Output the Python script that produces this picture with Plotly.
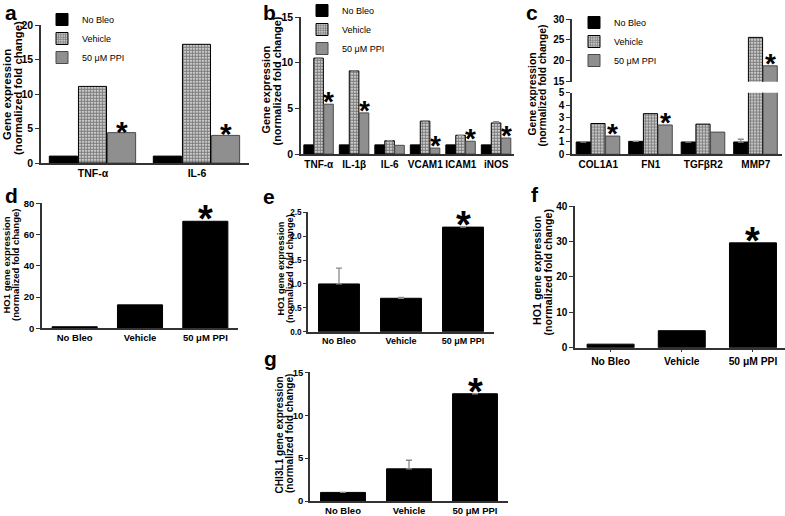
import plotly.graph_objects as go

W, H = 785, 516
def px(x): return x / W
def py(y): return 1 - y / H

FONT = "Liberation Sans"

# ---------------- data ----------------
series_names = ["No Bleo", "Vehicle", "50 μM PPI"]

a_cats = ["TNF-α", "IL-6"]
a_nobleo = [1.0, 1.0]
a_vehicle = [11.1, 17.2]
a_ppi = [4.4, 4.0]
a_sig = [True, True]

b_cats = ["TNF-α", "IL-1β", "IL-6", "VCAM1", "ICAM1", "iNOS"]
b_nobleo = [1.0, 1.0, 1.0, 1.0, 1.0, 1.0]
b_vehicle = [10.5, 9.1, 1.45, 3.6, 2.05, 3.4]
b_vehicle_err = [0, 0, 0, 0, 0, 0.15]
b_ppi = [5.45, 4.5, 0.95, 0.65, 1.4, 1.75]
b_sig = [True, True, False, True, True, True]

c_cats = ["COL1A1", "FN1", "TGFβR2", "MMP7"]
c_nobleo = [1.0, 1.05, 1.0, 1.0]
c_nobleo_err = [0, 0, 0, 0.22]
c_vehicle = [2.5, 3.3, 2.45, 25.6]
c_ppi = [1.48, 2.38, 1.8, 18.8]
c_sig = [True, True, False, True]

groups = ["No Bleo", "Vehicle", "50 μM PPI"]
d_vals = [1.0, 15.0, 68.5]
d_err = [0, 0, 0]
e_vals = [1.0, 0.70, 2.19]
e_err = [0.33, 0.02, 0]
f_vals = [1.0, 4.8, 29.6]
f_err = [0, 0, 0]
g_vals = [1.0, 3.75, 12.5]
g_err = [0, 1.0, 0]
single_sig = [False, False, True]

# ---------------- styles ----------------
M_NB = dict(color="black", line=dict(color="black", width=1))
M_VEH = dict(color="white",
             pattern=dict(shape=".", fgcolor="black", bgcolor="white", size=3, solidity=0.75),
             line=dict(color="black", width=1))
M_PPI = dict(color="#8f8f8f", line=dict(color="#4a4a4a", width=1))
M_SINGLE = dict(color="black", line=dict(color="black", width=1))

fig = go.Figure()
annotations = []

def err_dict(err):
    if err is None or not any(err):
        return None
    return dict(type="data", array=err, arrayminus=[0] * len(err), symmetric=False,
                color="#8a8a8a", thickness=1.3, width=3)

OFFS = (-0.42, -0.14, 0.14)
BW = 0.27

def grouped(xa, ya, cats, vals_list, errs_list, legend, showlegend):
    idx = list(range(len(cats)))
    for name, vals, err, marker, off in zip(series_names, vals_list, errs_list,
                                             (M_NB, M_VEH, M_PPI), OFFS):
        fig.add_trace(go.Bar(x=idx, y=vals, name=name, width=BW, offset=off,
                             marker=marker, xaxis=xa, yaxis=ya, legend=legend,
                             showlegend=showlegend, error_y=err_dict(err),
                             hoverinfo="skip"))

def single(xa, ya, vals, err, width):
    idx = list(range(len(groups)))
    fig.add_trace(go.Bar(x=idx, y=vals, width=width, marker=M_SINGLE,
                         xaxis=xa, yaxis=ya, showlegend=False,
                         error_y=err_dict(err), hoverinfo="skip"))

def star(xref, yref, x, y, size, yshift):
    annotations.append(dict(x=x, y=y, xref=xref, yref=yref, text="*", showarrow=False,
                            xanchor="center", yanchor="bottom", yshift=yshift,
                            font=dict(family=FONT, size=size, color="black", weight="bold")))

# panel a
grouped("x", "y", a_cats, [a_nobleo, a_vehicle, a_ppi], [None, None, None], "legend", True)
for i, (v, s) in enumerate(zip(a_ppi, a_sig)):
    if s:
        star("x", "y", i + OFFS[2] + BW / 2, v, 30, -17)
# panel b
grouped("x2", "y2", b_cats, [b_nobleo, b_vehicle, b_ppi], [None, b_vehicle_err, None], "legend2", True)
for i, (v, s) in enumerate(zip(b_ppi, b_sig)):
    if s:
        star("x2", "y2", i + OFFS[2] + BW / 2, v, 28, -15)
# panel c (broken axis)
grouped("x3", "y3", c_cats, [c_nobleo, c_vehicle, c_ppi], [c_nobleo_err, None, None], "legend3", True)
grouped("x4", "y4", c_cats, [c_nobleo, c_vehicle, c_ppi], [None, None, None], "legend3", False)
for i, (v, s) in enumerate(zip(c_ppi, c_sig)):
    if s:
        yr = "y4" if v > 5 else "y3"
        star("x3" if yr == "y3" else "x4", yr, i + OFFS[2] + BW / 2, v, 28, -15)
# panels d-g
single("x5", "y5", d_vals, d_err, 0.69)
single("x6", "y6", e_vals, e_err, 0.66)
single("x7", "y7", f_vals, f_err, 0.66)
single("x8", "y8", g_vals, g_err, 0.68)
for xa, ya, vals in (("x5", "y5", d_vals), ("x6", "y6", e_vals), ("x7", "y7", f_vals), ("x8", "y8", g_vals)):
    for i, (v, s) in enumerate(zip(vals, single_sig)):
        if s:
            star(xa, ya, i, v, 38, -21)

# ---------------- axes ----------------
def xaxis(x0, x1, anchor, rng, cats, fsize, visible=True, ticks=""):
    return dict(domain=[px(x0), px(x1)], anchor=anchor, range=rng,
                tickvals=list(range(len(cats))), ticktext=cats, tickangle=0,
                showline=visible, linecolor="#333", linewidth=1.5,
                ticks=ticks, ticklen=3, tickwidth=1.2, tickcolor="#333",
                showticklabels=visible, showgrid=False, zeroline=False, fixedrange=True,
                tickfont=dict(family=FONT, size=fsize, color="black", weight="bold"),
                visible=visible)

def yaxis(top, bot, anchor, rng, dtick, fsize, fmt=None, ticklen=4):
    d = dict(domain=[py(bot), py(top)], anchor=anchor, range=rng, dtick=dtick, tick0=rng[0],
             showline=True, linecolor="#333", linewidth=1.5,
             ticks="outside", ticklen=ticklen, tickwidth=1.2, tickcolor="#333",
             showgrid=False, zeroline=False, fixedrange=True,
             tickfont=dict(family=FONT, size=fsize, color="black", weight="bold"))
    if fmt:
        d["tickformat"] = fmt
    return d

layout = dict(
    width=W, height=H, margin=dict(l=0, r=0, t=0, b=0, autoexpand=False),
    paper_bgcolor="white", plot_bgcolor="white", barmode="overlay",
    font=dict(family=FONT, color="black"),
    xaxis=xaxis(41, 249, "y", [-0.5, 1.5], a_cats, 10.5),
    yaxis=yaxis(25, 163, "x", [0, 20], 5, 10.5),
    xaxis2=xaxis(301, 514, "y2", [-0.5, 5.5], b_cats, 10),
    yaxis2=yaxis(17, 154, "x2", [0, 15], 5, 10.5),
    xaxis3=xaxis(572, 782, "y3", [-0.5, 3.5], c_cats, 10),
    yaxis3=yaxis(92.7, 154.3, "x3", [0, 5], 1, 10),
    xaxis4=xaxis(572, 782, "y4", [-0.5, 3.5], c_cats, 10, visible=False),
    yaxis4=yaxis(19, 81.7, "x4", [15, 30], 5, 10),
    xaxis5=xaxis(42, 238, "y5", [-0.5, 2.5], groups, 9.5),
    yaxis5=yaxis(203.3, 328.3, "x5", [0, 80], 20, 9.5),
    xaxis6=xaxis(308, 494, "y6", [-0.5, 2.5], groups, 9),
    yaxis6=yaxis(212.3, 331.7, "x6", [0, 2.5], 0.5, 8.2, ".1f", ticklen=3),
    xaxis7=xaxis(575, 785, "y7", [-0.5, 2.45], groups, 10.3, ticks="outside"),
    yaxis7=yaxis(206, 347.7, "x7", [0, 40], 10, 10),
    xaxis8=xaxis(310, 508, "y8", [-0.5, 2.5], groups, 9.5),
    yaxis8=yaxis(372.3, 501, "x8", [0, 15], 5, 9.5, ticklen=3),
)

def leg(x, ytop):
    return dict(x=px(x), y=py(ytop), xanchor="left", yanchor="top", bgcolor="rgba(0,0,0,0)",
                font=dict(family=FONT, size=9, color="black"), tracegroupgap=0,
                itemwidth=30, traceorder="normal")

layout["legend"] = leg(42, 5)
layout["legend2"] = leg(302, -4)
layout["legend3"] = leg(574, 8)

# y-axis titles (each line placed separately for tight line spacing)
def ytitle(x1, y1, x2, y2, line1, line2, size):
    for xc, yc, t in ((x1, y1, line1), (x2, y2, line2)):
        annotations.append(dict(x=px(xc), y=py(yc), xref="paper", yref="paper", text=t,
                                textangle=-90, showarrow=False, xanchor="center", yanchor="middle",
                                font=dict(family=FONT, size=size, color="black", weight="bold")))

FC = "(normalized fold change)"
ytitle(7, 95, 18, 88, "Gene expression", FC, 11.3)
ytitle(265.5, 90, 276.5, 81, "Gene expression", FC, 10.9)
ytitle(531.5, 94, 542.5, 86, "Gene expression", FC, 10.3)
ytitle(5.5, 265, 15, 265, "HO1 gene expression", FC, 9.5)
ytitle(280.5, 269, 290, 269, "HO1 gene expression", FC, 9.2)
ytitle(537, 271, 547.5, 272, "HO1 gene expression", FC, 10.7)
ytitle(278.5, 435, 289, 434, "CHI3L1 gene expression", FC, 10.1)

# panel letters
for letter, x, y in (("a", 11, 12), ("b", 269, 12), ("c", 532, 12), ("d", 11, 195),
                     ("e", 269, 196), ("f", 535, 194), ("g", 270, 358)):
    annotations.append(dict(x=px(x), y=py(y), xref="paper", yref="paper", text=letter,
                            showarrow=False, xanchor="center", yanchor="middle",
                            font=dict(family=FONT, size=21, color="black", weight="bold")))

layout["annotations"] = annotations
fig.update_layout(**layout)
fig.write_html("out.html", config={"displayModeBar": False},
               post_script="document.body.style.margin='0';")
